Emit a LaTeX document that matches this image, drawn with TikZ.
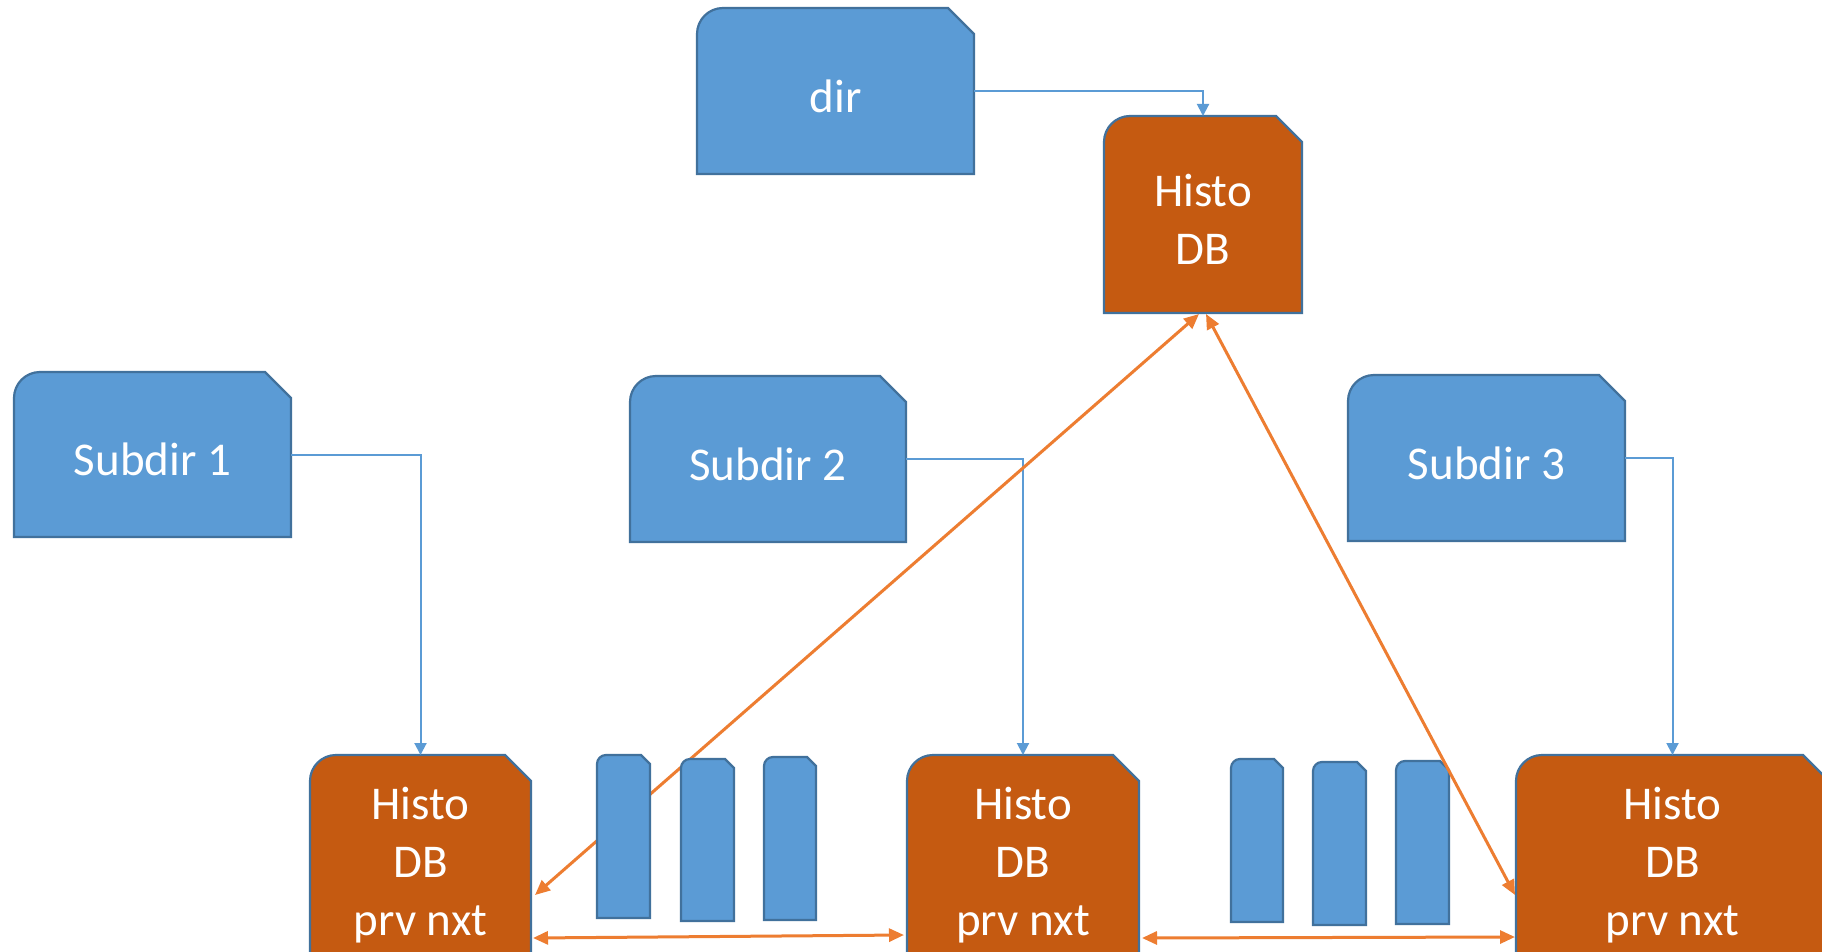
\documentclass[tikz,border=0pt]{standalone}
\usepackage{fontspec}
\setmainfont{Carlito}
\usetikzlibrary{arrows.meta,calc}
\definecolor{tabblue}{HTML}{5B9BD5}
\definecolor{tabedge}{HTML}{41719C}
\definecolor{dbfill}{HTML}{C55A11}
\definecolor{linkor}{HTML}{ED7D31}

% Box with a rounded top-left corner and a snipped top-right corner.
% #1 name, #2 left, #3 top, #4 right, #5 bottom, #6 corner size, #7 fill, #8 text
\newcommand\tabbox[8]{%
  \path[draw=tabedge, line width=2.2pt, fill=#7]
    (#2,#5) -- (#2,#3+#6)
    .. controls (#2,#3+0.448*#6) and (#2+0.448*#6,#3) .. (#2+#6,#3)
    -- (#4-#6,#3) -- (#4,#3+#6) -- (#4,#5) -- cycle;
  \node[inner sep=0pt, outer sep=0pt,
        minimum width={(#4-#2)*1pt}, minimum height={(#5-#3)*1pt}]
    (#1) at ({(#2+#4)/2},{(#3+#5)/2}) {};
  \node[boxtext] (#1-text) at ($(#1.center)+(0,5)$) {#8};
}

\tikzset{
  boxtext/.style={inner sep=0pt, text=white, align=center,
    font=\fontsize{47}{58}\selectfont},
  bluelink/.style={draw=tabblue, line width=2pt, -{Triangle[length=12pt,width=12pt]}},
  orlink/.style={draw=linkor, line width=3pt,
    {Triangle[length=15pt,width=13pt]}-{Triangle[length=15pt,width=13pt]}},
}

\begin{document}
\begin{tikzpicture}[x=1pt,y=-1pt]
\path[use as bounding box, fill=white] (0,0) rectangle (1822,952);
\clip (0,0) rectangle (1822,952);

% directories
\tabbox{dir}{697}{8}{974}{174}{26}{tabblue}{dir}
\tabbox{s1}{14}{372}{291}{537}{26}{tabblue}{Subdir 1}
\tabbox{s2}{630}{376}{906}{542}{26}{tabblue}{Subdir 2}
\tabbox{s3}{1348}{375}{1625}{541}{26}{tabblue}{Subdir 3}

% histogram databases
\tabbox{T}{1104}{116}{1302}{313}{26}{dbfill}{Histo\\DB}
\tabbox{L}{310}{755}{531}{966}{26}{dbfill}{Histo\\DB\\prv nxt}
\tabbox{M}{907}{755}{1139}{966}{26}{dbfill}{Histo\\DB\\prv nxt}
\tabbox{R}{1516}{755}{1829}{966}{26}{dbfill}{Histo\\DB\\prv nxt}

% directory to database links
\draw[bluelink] (dir.east) -| (T.north);
\draw[bluelink] (s1.east) -| (L.north);
\draw[bluelink] (s2.east) -| (M.north);
\draw[bluelink] (s3.east) -| (R.north);

% up-link of the first database
\draw[orlink] ($(T.south)+(-4,1)$) -- ($(L.north east)+(4,140)$);

% files between the databases
\tabbox{f1}{597}{755}{650}{918}{9}{tabblue}{}
\tabbox{f2}{681}{759}{734}{921}{9}{tabblue}{}
\tabbox{f3}{764}{757}{816}{920}{9}{tabblue}{}
\tabbox{f4}{1231}{759}{1283}{922}{9}{tabblue}{}
\tabbox{f5}{1313}{762}{1366}{925}{9}{tabblue}{}
\tabbox{f6}{1396}{761}{1449}{924}{9}{tabblue}{}

% up-link of the last database and the prv/nxt chain
\draw[orlink] ($(T.south)+(3,1)$) -- ($(R.north west)+(-1,140)$);
\draw[orlink] ($(L.north east)+(2,183)$) -- ($(M.north west)+(-3,180)$);
\draw[orlink] ($(M.north east)+(3,183)$) -- ($(R.north west)+(-1,182)$);
\end{tikzpicture}
\end{document}
